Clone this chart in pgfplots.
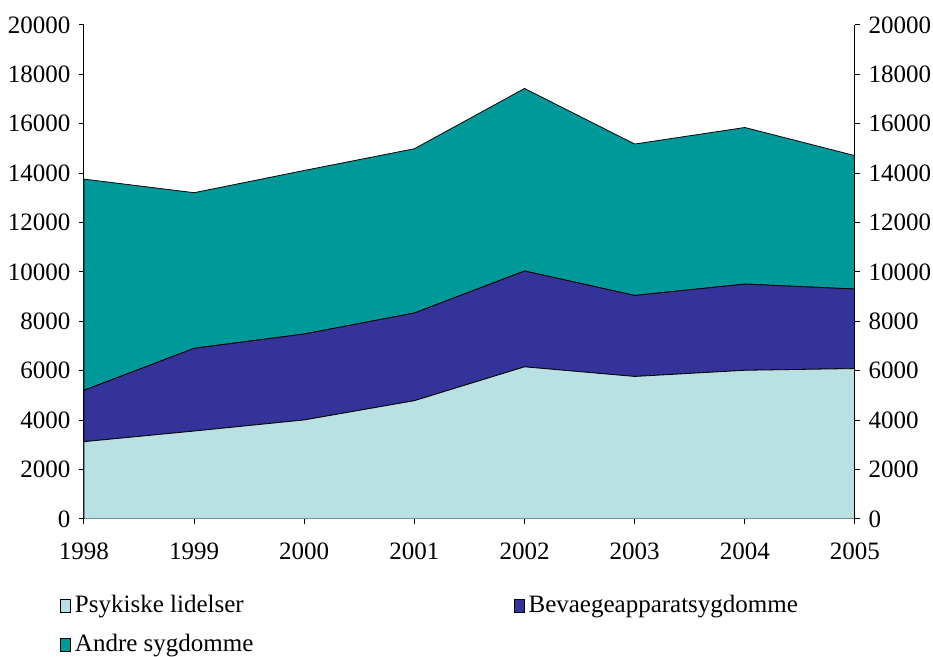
\documentclass[border=0pt]{standalone}
\usepackage{fontspec}
\setmainfont{Liberation Serif}
\usepackage{pgfplots}
\usepackage{pgfplotstable}
\pgfplotsset{compat=1.18}

\definecolor{psyk}{RGB}{185,224,227}
\definecolor{bev}{RGB}{51,51,153}
\definecolor{andre}{RGB}{0,153,153}

% stacked values (each series on top of the one before)
\pgfplotstableread{
year psyk bev andre
1998 3130 2080 8550
1999 3560 3350 6300
2000 4010 3480 6620
2001 4790 3550 6650
2002 6160 3880 7390
2003 5770 3280 6130
2004 6020 3490 6340
2005 6090 3220 5400
}\sygdata

\pgfplotsset{
  base/.style={
    scale only axis, width=385.5pt, height=247pt,
    at={(0,0)}, anchor=south west,
    xmin=1998, xmax=2005, ymin=0, ymax=20000,
    xtick={1998,...,2005}, ytick={0,2000,...,20000},
    scaled ticks=false,
    tick align=outside, major tick length=2.5pt,
    tick style={black, line width=0.5pt},
    axis line style={black, line width=0.5pt},
    /pgf/number format/1000 sep={},
    /pgf/number format/assume math mode=true,
  },
}

\begin{document}
\fontsize{12.5}{14}\selectfont
\begin{tikzpicture}
\path[use as bounding box] (-42pt,-69pt) rectangle (424.5pt,259.5pt);
\begin{axis}[base,
  axis x line*=bottom, axis y line*=left,
  xticklabel style={yshift=-5pt},
  stack plots=y,
  legend columns=2,
  legend style={at={(0,0)}, anchor=north west, xshift=-12pt, yshift=-36pt,
    draw=none, fill=none, inner sep=0pt, row sep=5pt,
    nodes={inner sep=2pt}},
  legend cell align=left,
  legend image code/.code={\draw[#1,draw=black,line width=0.3pt] (0pt,-3.2pt) rectangle (5pt,3.2pt);},
]
\addplot[fill=psyk, draw=black, line width=0.4pt] table[x=year, y=psyk] {\sygdata} \closedcycle;
\addlegendentry{\makebox[217.5pt][l]{Psykiske lidelser}}
\addplot[fill=bev, draw=black, line width=0.4pt] table[x=year, y=bev] {\sygdata} \closedcycle;
\addlegendentry{Bevaegeapparatsygdomme}
\addplot[fill=andre, draw=black, line width=0.4pt] table[x=year, y=andre] {\sygdata} \closedcycle;
\addlegendentry{Andre sygdomme}
\end{axis}
\begin{axis}[base,
  hide x axis, axis y line*=right,
]
\end{axis}
\end{tikzpicture}
\end{document}
